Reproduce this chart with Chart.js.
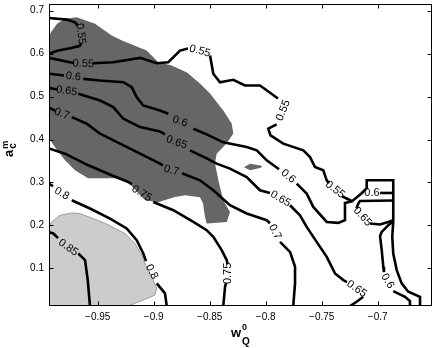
<!DOCTYPE html>
<html>
<head>
<meta charset="utf-8">
<script src="https://cdn.jsdelivr.net/npm/chart.js@4.4.0/dist/chart.umd.min.js"></script>
<style>
  html, body { margin: 0; padding: 0; background: #fff; }
  canvas { display: block; }
</style>
</head>
<body>
<canvas id="contour" width="436" height="348" style="width:436px;height:348px"></canvas>
<script>
// axes
var xRange = [-0.9935, -0.6515];
var yRange = [0.0125, 0.7155];
var xTicks = [-0.95, -0.9, -0.85, -0.8, -0.75, -0.7];
var yTicks = [0.1, 0.2, 0.3, 0.4, 0.5, 0.6, 0.7];

// shaded zones (w, a)
var darkZone = [
  [-0.9935, 0.4027], [-0.9935, 0.6419], [-0.9908, 0.6535], [-0.9863, 0.6698],
  [-0.9792, 0.6814], [-0.9688, 0.6844], [-0.9524, 0.6698], [-0.9375, 0.6419],
  [-0.9283, 0.6303], [-0.9063, 0.6071], [-0.8959, 0.5799], [-0.8839, 0.5722],
  [-0.8703, 0.5560], [-0.8587, 0.5304], [-0.8497, 0.5072], [-0.8379, 0.4677],
  [-0.8304, 0.4375], [-0.8289, 0.4143], [-0.8348, 0.3911], [-0.8438, 0.3671],
  [-0.8453, 0.3446], [-0.8423, 0.3051], [-0.8379, 0.2587], [-0.8319, 0.2315],
  [-0.8348, 0.2082], [-0.8527, 0.2045], [-0.8542, 0.2199], [-0.8560, 0.2517],
  [-0.8587, 0.2656], [-0.8721, 0.2703], [-0.8810, 0.2663], [-0.8962, 0.2540],
  [-0.9078, 0.2587], [-0.9229, 0.3005], [-0.9346, 0.3098], [-0.9587, 0.3098],
  [-0.9703, 0.3283], [-0.9792, 0.3516], [-0.9881, 0.3818]
];
var darkSliver = [
  [-0.8194, 0.3353], [-0.8140, 0.3434], [-0.8033, 0.3388], [-0.8042, 0.3341], [-0.8140, 0.3283]
];
var lightZone = [
  [-0.9935, 0.1966], [-0.9911, 0.2082], [-0.9837, 0.2238], [-0.9732, 0.2292],
  [-0.9658, 0.2278], [-0.9435, 0.2052], [-0.9256, 0.1813], [-0.9167, 0.1581],
  [-0.9107, 0.1309], [-0.9078, 0.1116], [-0.9018, 0.0805], [-0.8973, 0.0542],
  [-0.8988, 0.0380], [-0.9093, 0.0264], [-0.9182, 0.0171], [-0.9227, 0.0125],
  [-0.9935, 0.0125]
];

// contour pieces, split where the labels sit
var level055 = [
  [[-0.9935, 0.6830], [-0.9777, 0.6791], [-0.9703, 0.6728], [-0.9676, 0.6652]],
  [[-0.9646, 0.6240], [-0.9663, 0.6175], [-0.9747, 0.6124], [-0.9852, 0.6071], [-0.9935, 0.6001]],
  [[-0.9935, 0.5901], [-0.9747, 0.5799], [-0.9712, 0.5781]],
  [[-0.9542, 0.5776], [-0.9363, 0.5799], [-0.9122, 0.5901], [-0.8973, 0.5776], [-0.8870, 0.5799],
   [-0.8765, 0.6071], [-0.8694, 0.6117]],
  [[-0.8497, 0.5955], [-0.8468, 0.5530], [-0.8408, 0.5334], [-0.8289, 0.5390], [-0.8185, 0.5258],
   [-0.8051, 0.5258], [-0.7890, 0.4956]],
  [[-0.7902, 0.4352], [-0.7977, 0.4252], [-0.7957, 0.4096], [-0.7843, 0.3904], [-0.7664, 0.3748],
   [-0.7604, 0.3592], [-0.7560, 0.3360], [-0.7486, 0.3283], [-0.7455, 0.3051], [-0.7435, 0.2981]],
  [[-0.7319, 0.2679], [-0.7229, 0.2563], [-0.7143, 0.2749], [-0.7098, 0.2865], [-0.7098, 0.3051],
   [-0.6861, 0.3051], [-0.6861, 0.2099], [-0.6870, 0.1734], [-0.6861, 0.1348], [-0.6830, 0.0961],
   [-0.6786, 0.0652], [-0.6727, 0.0456], [-0.6622, 0.0340], [-0.6622, 0.0125]]
];
var level060 = [
  [[-0.9935, 0.5530], [-0.9801, 0.5490]],
  [[-0.9629, 0.5413], [-0.9479, 0.5374], [-0.9271, 0.5334], [-0.9196, 0.5218], [-0.9152, 0.4986],
   [-0.9093, 0.4793], [-0.8944, 0.4677], [-0.8870, 0.4600]],
  [[-0.8646, 0.4252], [-0.8527, 0.4120], [-0.8379, 0.3934], [-0.8170, 0.3825], [-0.8080, 0.3748],
   [-0.7991, 0.3516], [-0.7881, 0.3307]],
  [[-0.7723, 0.2974], [-0.7634, 0.2742], [-0.7575, 0.2431], [-0.7455, 0.2082], [-0.7352, 0.2059],
   [-0.7292, 0.2122], [-0.7292, 0.2524], [-0.7229, 0.2563]],
  [[-0.6979, 0.2756], [-0.6861, 0.2756]],
  [[-0.6861, 0.2099], [-0.6905, 0.2006], [-0.6964, 0.1850], [-0.6979, 0.1750], [-0.6964, 0.1425],
   [-0.6950, 0.1037], [-0.6944, 0.0914]],
  [[-0.6861, 0.0473], [-0.6756, 0.0340], [-0.6712, 0.0241], [-0.6712, 0.0125]]
];
var level065 = [
  [[-0.9935, 0.5204], [-0.9863, 0.5165]],
  [[-0.9673, 0.5065], [-0.9479, 0.4909], [-0.9361, 0.4754], [-0.9271, 0.4484], [-0.9122, 0.4289],
   [-0.8944, 0.4189], [-0.8899, 0.4120]],
  [[-0.8676, 0.3748], [-0.8527, 0.3562], [-0.8438, 0.3439], [-0.8319, 0.3323], [-0.8170, 0.3128],
   [-0.8051, 0.2819], [-0.7962, 0.2756]],
  [[-0.7783, 0.2470], [-0.7694, 0.2238], [-0.7634, 0.1966], [-0.7545, 0.1618], [-0.7455, 0.1269],
   [-0.7381, 0.0884], [-0.7307, 0.0728], [-0.7274, 0.0682]],
  [[-0.7129, 0.0340], [-0.7188, 0.0224], [-0.7247, 0.0125]],
  [[-0.6861, 0.2580], [-0.7158, 0.2570], [-0.7173, 0.2510], [-0.7189, 0.2401]],
  [[-0.7069, 0.2045], [-0.6979, 0.2022], [-0.6905, 0.2082], [-0.6861, 0.2122]]
];
var level070 = [
  [[-0.9935, 0.4740], [-0.9881, 0.4677]],
  [[-0.9732, 0.4522], [-0.9598, 0.4368], [-0.9479, 0.4136], [-0.9301, 0.3904], [-0.9122, 0.3671],
   [-0.8944, 0.3439], [-0.8917, 0.3400]],
  [[-0.8747, 0.3214], [-0.8587, 0.3051], [-0.8468, 0.2819], [-0.8319, 0.2470], [-0.8170, 0.2278],
   [-0.7991, 0.2122], [-0.7962, 0.2052]],
  [[-0.7872, 0.1618], [-0.7783, 0.1386], [-0.7738, 0.1037], [-0.7738, 0.0652], [-0.7754, 0.0125]]
];
var level075 = [
  [[-0.9935, 0.3794], [-0.9792, 0.3671], [-0.9584, 0.3400], [-0.9375, 0.3167], [-0.9227, 0.3012],
   [-0.9194, 0.2958]],
  [[-0.9004, 0.2547], [-0.8825, 0.2354], [-0.8646, 0.2082], [-0.8527, 0.1890], [-0.8468, 0.1734],
   [-0.8393, 0.1425], [-0.8348, 0.1193], [-0.8341, 0.1100]],
  [[-0.8354, 0.0659], [-0.8363, 0.0573], [-0.8379, 0.0125]]
];
var level080 = [
  [[-0.9935, 0.2974], [-0.9899, 0.2912]],
  [[-0.9732, 0.2587], [-0.9569, 0.2394], [-0.9390, 0.2161], [-0.9241, 0.1929], [-0.9152, 0.1657],
   [-0.9093, 0.1348], [-0.9069, 0.1170]],
  [[-0.8973, 0.0652], [-0.8899, 0.0419], [-0.8884, 0.0125]]
];
var level085 = [
  [[-0.9935, 0.1843], [-0.9896, 0.1813], [-0.9854, 0.1704]],
  [[-0.9673, 0.1348], [-0.9613, 0.1193], [-0.9589, 0.0728], [-0.9569, 0.0125]]
];

// inline contour labels: text, w, a, angle along the line
var contourLabels = [
  ['0.55', -0.9652, 0.6459, 82], ['0.55', -0.9629, 0.5762, 2], ['0.55', -0.8587, 0.6059, 15],
  ['0.55', -0.7843, 0.4677, -68], ['0.55', -0.7381, 0.2835, 38],
  ['0.6', -0.9718, 0.5467, 6], ['0.6', -0.8765, 0.4422, 20], ['0.6', -0.7798, 0.3144, 40],
  ['0.6', -0.7051, 0.2756, 0], ['0.6', -0.6912, 0.0705, 60],
  ['0.65', -0.9777, 0.5130, 8], ['0.65', -0.8795, 0.3934, 20], ['0.65', -0.7868, 0.2621, 30],
  ['0.65', -0.7188, 0.0524, 35], ['0.65', -0.7136, 0.2203, 48],
  ['0.7', -0.9821, 0.4600, 20], ['0.7', -0.8841, 0.3283, 14], ['0.7', -0.7917, 0.1850, 62],
  ['0.75', -0.9107, 0.2742, 32], ['0.75', -0.8334, 0.0884, -90],
  ['0.8', -0.9821, 0.2742, 30], ['0.8', -0.9018, 0.0921, 62],
  ['0.85', -0.9763, 0.1483, 35]
];

var FONT = '"Liberation Sans", Arial, Helvetica, sans-serif';

var datasets = [];
[level055, level060, level065, level070, level075, level080, level085].forEach(function (lv) {
  lv.forEach(function (seg) {
    datasets.push({
      data: seg.map(function (p) { return { x: p[0], y: p[1] }; }),
      showLine: true,
      borderColor: '#000',
      borderWidth: 2.6,
      pointRadius: 0,
      tension: 0,
      fill: false
    });
  });
});

function px(chart, p) {
  return [chart.scales.x.getPixelForValue(p[0]), chart.scales.y.getPixelForValue(p[1])];
}

// grey patches under the lines
var zonesPlugin = {
  id: 'zones',
  beforeDatasetsDraw: function (chart) {
    var ctx = chart.ctx, a = chart.chartArea;
    var zones = [
      { pts: darkZone, color: '#666666' },
      { pts: darkSliver, color: '#666666' },
      { pts: lightZone, color: '#cccccc', edge: '#8a8a8a' }
    ];
    ctx.save();
    ctx.beginPath();
    ctx.rect(a.left, a.top, a.right - a.left, a.bottom - a.top);
    ctx.clip();
    zones.forEach(function (z) {
      ctx.beginPath();
      z.pts.forEach(function (p, i) {
        var q = px(chart, p);
        if (i) ctx.lineTo(q[0], q[1]); else ctx.moveTo(q[0], q[1]);
      });
      ctx.closePath();
      ctx.fillStyle = z.color;
      ctx.fill();
      if (z.edge) { ctx.strokeStyle = z.edge; ctx.lineWidth = 0.8; ctx.stroke(); }
    });
    ctx.restore();
  }
};

// rotated labels sitting in the line gaps
var labelsPlugin = {
  id: 'clabels',
  afterDatasetsDraw: function (chart) {
    var ctx = chart.ctx;
    ctx.save();
    ctx.fillStyle = '#000';
    ctx.font = '11px ' + FONT;
    ctx.textAlign = 'center';
    ctx.textBaseline = 'middle';
    contourLabels.forEach(function (l) {
      var q = px(chart, [l[1], l[2]]);
      ctx.save();
      ctx.translate(q[0], q[1]);
      ctx.rotate(l[3] * Math.PI / 180);
      ctx.fillText(l[0], 0, 0);
      ctx.restore();
    });
    ctx.restore();
  }
};

// matlab style box with inward ticks, and the axis titles
var framePlugin = {
  id: 'frame',
  afterDraw: function (chart) {
    var ctx = chart.ctx, a = chart.chartArea;
    var L = Math.round(a.left) + 0.5, R = Math.round(a.right) - 0.5;
    var T = Math.round(a.top) + 0.5, B = Math.round(a.bottom) - 0.5;
    ctx.save();
    ctx.strokeStyle = '#000';
    ctx.lineWidth = 1;
    ctx.strokeRect(L, T, R - L, B - T);
    ctx.beginPath();
    xTicks.forEach(function (v) {
      var x = Math.round(chart.scales.x.getPixelForValue(v)) + 0.5;
      ctx.moveTo(x, B); ctx.lineTo(x, B - 4);
      ctx.moveTo(x, T); ctx.lineTo(x, T + 4);
    });
    yTicks.forEach(function (v) {
      var y = Math.round(chart.scales.y.getPixelForValue(v)) + 0.5;
      ctx.moveTo(L, y); ctx.lineTo(L + 4, y);
      ctx.moveTo(R, y); ctx.lineTo(R - 4, y);
    });
    ctx.stroke();

    ctx.fillStyle = '#000';
    ctx.textBaseline = 'alphabetic';
    ctx.textAlign = 'left';
    // x title: w, super 0, sub Q
    var cx = (a.left + a.right) / 2;
    ctx.font = 'bold 13px ' + FONT;
    var wW = ctx.measureText('w').width;
    var x0 = cx - (wW + 7) / 2 - 1;
    ctx.fillText('w', x0, 337);
    ctx.font = 'bold 9px ' + FONT;
    ctx.fillText('0', x0 + wW + 1, 330);
    ctx.font = 'bold 10px ' + FONT;
    ctx.fillText('Q', x0 + wW + 1, 345);
    // y title: a, super m, sub c (rotated)
    ctx.translate(13, 157);
    ctx.rotate(-Math.PI / 2);
    ctx.font = 'bold 13px ' + FONT;
    var aW = ctx.measureText('a').width;
    ctx.fillText('a', 0, 0);
    ctx.font = 'bold 9px ' + FONT;
    ctx.fillText('m', aW + 1, -5);
    ctx.font = 'bold 10px ' + FONT;
    ctx.fillText('c', aW + 1, 3);
    ctx.restore();
  }
};

function fmt(v) {
  return (v < 0 ? '\u2212' : '') + String(Math.abs(v));
}

var contourChart = new Chart(document.getElementById('contour'), {
  type: 'scatter',
  data: { datasets: datasets },
  options: {
    responsive: false,
    animation: false,
    events: [],
    layout: { padding: { top: 4, right: 4, left: 0, bottom: 0 } },
    plugins: { legend: { display: false }, tooltip: { enabled: false } },
    scales: {
      x: {
        type: 'linear',
        min: xRange[0],
        max: xRange[1],
        grid: { display: false, drawTicks: false },
        border: { display: false },
        ticks: { color: '#000', padding: 5, font: { family: FONT, size: 10 }, callback: fmt, maxRotation: 0 },
        afterBuildTicks: function (s) { s.ticks = xTicks.map(function (v) { return { value: v }; }); },
        afterFit: function (s) { s.height = 42; s.paddingLeft = 0; s.paddingRight = 0; }
      },
      y: {
        type: 'linear',
        min: yRange[0],
        max: yRange[1],
        grid: { display: false, drawTicks: false },
        border: { display: false },
        ticks: { color: '#000', padding: 5, font: { family: FONT, size: 10 }, callback: fmt },
        afterBuildTicks: function (s) { s.ticks = yTicks.map(function (v) { return { value: v }; }); },
        afterFit: function (s) { s.width = 49; s.paddingTop = 0; s.paddingBottom = 0; }
      }
    }
  },
  plugins: [zonesPlugin, labelsPlugin, framePlugin]
});
</script>
</body>
</html>
